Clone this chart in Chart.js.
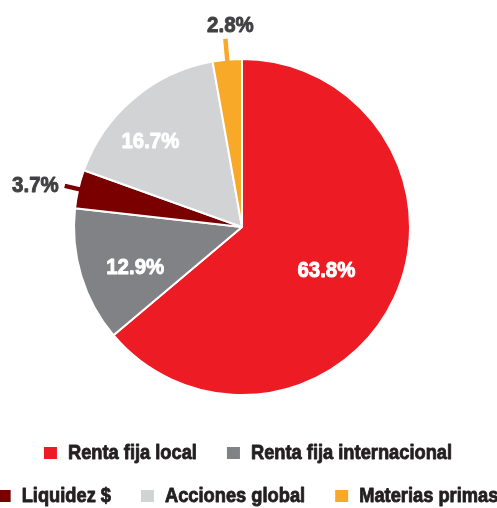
<!DOCTYPE html>
<html>
<head>
<meta charset="utf-8">
<script src="https://cdn.jsdelivr.net/npm/chart.js@4/dist/chart.umd.min.js"></script>
<style>
  html, body { margin: 0; padding: 0; background: #fff; }
  #wrap { width: 497px; height: 508px; }
</style>
</head>
<body>
<div id="wrap"><canvas id="pie" width="497" height="508"></canvas></div>
<script>
const labels = ["Renta fija local", "Renta fija internacional", "Liquidez $", "Acciones global", "Materias primas"];
const values = [63.8, 12.9, 3.7, 16.7, 2.8];
const colors = ["#ED1C24", "#808285", "#7A0000", "#D1D3D4", "#F9A928"];
const legendRows = [[0, 1], [2, 3, 4]];

const FONT = "'Liberation Sans', Arial, sans-serif";

// how each value label is placed: inside (white) or outside with a leader line
const labelPlace = [
  { inside: true, r: 0.565, shift: 0.04 },
  { inside: true, r: 0.68, shift: -0.07 },
  { inside: false, len: 14, dx: -6, dy: 0 },
  { inside: true, r: 0.745, shift: -0.12 },
  { inside: false, len: 21, dx: 5, dy: -13 }
];

// the reference uses a heavy condensed face; squeeze text horizontally and thicken it
function stretchText(ctx, txt, x, y, align, sx) {
  const w = ctx.measureText(txt).width * sx;
  let left = x;
  if (align === 'center') left = x - w / 2;
  else if (align === 'right') left = x - w;
  ctx.save();
  ctx.textAlign = 'left';
  ctx.translate(left, y);
  ctx.scale(sx, 1);
  ctx.strokeStyle = ctx.fillStyle;
  ctx.lineWidth = 0.9;
  ctx.lineJoin = 'round';
  ctx.strokeText(txt, 0, 0);
  ctx.fillText(txt, 0, 0);
  ctx.restore();
  return w;
}

const valueLabels = {
  id: 'valueLabels',
  afterDatasetsDraw(chart) {
    const ctx = chart.ctx;
    const meta = chart.getDatasetMeta(0);
    ctx.save();
    ctx.font = "bold 22px " + FONT;
    ctx.textBaseline = 'middle';
    const sx = 58 / ctx.measureText('63.8%').width;
    meta.data.forEach((arc, i) => {
      const p = arc.getProps(['x', 'y', 'startAngle', 'endAngle', 'outerRadius'], true);
      const place = labelPlace[i];
      const txt = values[i].toFixed(1) + '%';
      if (place.inside) {
        const a = (p.startAngle + p.endAngle) / 2 + place.shift;
        const r = p.outerRadius * place.r;
        ctx.fillStyle = '#fff';
        stretchText(ctx, txt, p.x + Math.cos(a) * r, p.y + Math.sin(a) * r, 'center', sx);
      } else {
        const a = (p.startAngle + p.endAngle) / 2;
        const r0 = p.outerRadius - 6;
        const r1 = p.outerRadius + place.len;
        ctx.strokeStyle = colors[i];
        ctx.lineWidth = 4.5;
        ctx.beginPath();
        ctx.moveTo(p.x + Math.cos(a) * r0, p.y + Math.sin(a) * r0);
        ctx.lineTo(p.x + Math.cos(a) * r1, p.y + Math.sin(a) * r1);
        ctx.stroke();
        const lx = p.x + Math.cos(a) * r1 + place.dx;
        const ly = p.y + Math.sin(a) * r1 + place.dy;
        ctx.fillStyle = '#414042';
        const align = Math.abs(Math.cos(a)) > 0.5 ? (Math.cos(a) < 0 ? 'right' : 'left') : 'center';
        stretchText(ctx, txt, lx, ly, align, sx);
      }
    });
    ctx.restore();
  }
};

const customLegend = {
  id: 'customLegend',
  afterDraw(chart) {
    const ctx = chart.ctx;
    ctx.save();
    ctx.font = "bold 21px " + FONT;
    ctx.textBaseline = 'alphabetic';
    const sx = 129 / ctx.measureText(labels[0]).width;
    const box = 12, gapText = 12, gapItem = 30;
    const baseY = [459, 502];
    const cx = 248;
    legendRows.forEach((row, ri) => {
      const widths = row.map(i => box + gapText + ctx.measureText(labels[i]).width * sx);
      const total = widths.reduce((s, w) => s + w, 0) + gapItem * (row.length - 1);
      let x = cx - total / 2;
      row.forEach((i, k) => {
        ctx.fillStyle = colors[i];
        ctx.fillRect(x, baseY[ri] - box, box + 1, box);
        ctx.fillStyle = '#231F20';
        stretchText(ctx, labels[i], x + box + gapText, baseY[ri], 'left', sx);
        x += widths[k] + gapItem;
      });
    });
    ctx.restore();
  }
};

new Chart(document.getElementById('pie'), {
  type: 'pie',
  data: {
    labels: labels,
    datasets: [{
      data: values,
      backgroundColor: colors,
      borderColor: '#fff',
      borderWidth: 2
    }]
  },
  options: {
    responsive: false,
    animation: false,
    layout: { padding: { top: 58, left: 73, right: 86, bottom: 112 } },
    plugins: {
      legend: { display: false },
      tooltip: { enabled: false }
    }
  },
  plugins: [valueLabels, customLegend]
});
</script>
</body>
</html>
